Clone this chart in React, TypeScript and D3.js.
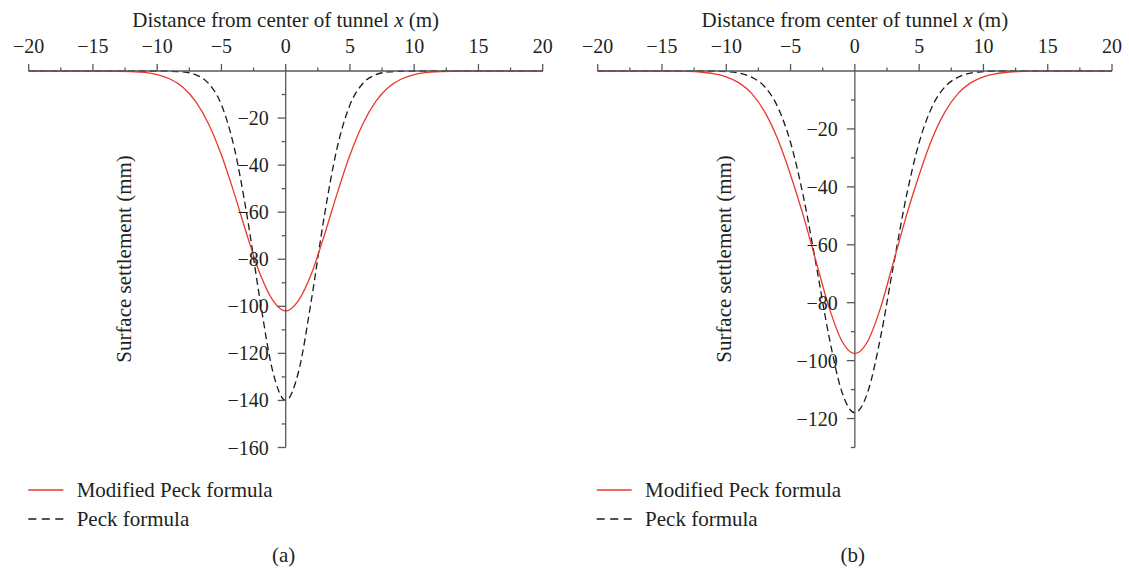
import React from "react";
import * as d3 from "d3";

// ---- data ----
const distances = d3.range(-20, 21); // m, -20..20

// Panel (a)
const modifiedA = [
  0, 0, 0, 0, 0, 0, 0, -0.1, -0.3, -0.6, -1.5, -3.4, -6.9, -13.0, -22.5, -35.7, -52.1, -69.9, -86.2, -97.5,
  -102,
  -97.5, -86.2, -69.9, -52.1, -35.7, -22.5, -13.0, -6.9, -3.4, -1.5, -0.6, -0.3, -0.1, 0, 0, 0, 0, 0, 0, 0,
];
const peckA = [
  0, 0, 0, 0, 0, 0, 0, 0, 0, 0, 0, -0.1, -0.4, -1.6, -5.3, -14.4, -32.7, -61.8, -97.3, -127.8,
  -140,
  -127.8, -97.3, -61.8, -32.7, -14.4, -5.3, -1.6, -0.4, -0.1, 0, 0, 0, 0, 0, 0, 0, 0, 0, 0, 0,
];

// Panel (b)
const modifiedB = [
  0, 0, 0, 0, 0, 0, -0.05, -0.15, -0.4, -0.9, -2.0, -4.1, -7.9, -14.2, -23.5, -35.9, -50.1, -66.0, -81.7, -93.3,
  -97.6,
  -93.3, -81.7, -66.0, -50.1, -35.9, -23.5, -14.2, -7.9, -4.1, -2.0, -0.9, -0.4, -0.15, -0.05, 0, 0, 0, 0, 0, 0,
];
const peckB = [
  0, 0, 0, 0, 0, 0, 0, 0, 0, 0, -0.2, -0.7, -2.2, -5.5, -12.4, -24.7, -43.4, -67.2, -91.9, -110.9,
  -118,
  -110.9, -91.9, -67.2, -43.4, -24.7, -12.4, -5.5, -2.2, -0.7, -0.2, 0, 0, 0, 0, 0, 0, 0, 0, 0, 0,
];

const xMajorTicks = [-20, -15, -10, -5, 0, 5, 10, 15, 20];
const xMinorTicks = [-17.5, -12.5, -7.5, -2.5, 2.5, 7.5, 12.5, 17.5];
const yMajorA = [-20, -40, -60, -80, -100, -120, -140, -160];
const yMinorA = [-10, -30, -50, -70, -90, -110, -130, -150];
const yMajorB = [-20, -40, -60, -80, -100, -120];
const yMinorB = [-10, -30, -50, -70, -90, -110, -130];

const xTitle = "Distance from center of tunnel ";
const yTitle = "Surface settlement (mm)";
const seriesNames = ["Modified Peck formula", "Peck formula"];

const AXIS = "#58595b";
const TEXT = "#231f20";
const RED = "#e8392e";
const FONT = '"Liberation Serif", "DejaVu Serif", serif';

type PanelProps = {
  xRange: [number, number];
  yMin: number;
  yMajor: number[];
  yMinor: number[];
  modified: number[];
  peck: number[];
  yLabelX: number;
  legendX: number;
  tag: string;
};

const txt = (size: number): React.CSSProperties => ({ fontFamily: FONT, fontSize: size + "px" });

function Panel({ xRange, yMin, yMajor, yMinor, modified, peck, yLabelX, legendX, tag }: PanelProps) {
  const x = d3.scaleLinear().domain([-20, 20]).range(xRange);
  const y = d3.scaleLinear().domain([yMin, 0]).range([447.5, 71]);
  const x0 = x(0);
  const y0 = y(0);
  const line = d3
    .line<number>()
    .x((_, i) => x(distances[i]))
    .y((d) => y(d))
    .curve(d3.curveMonotoneX);

  return (
    <g fill={TEXT}>
      {/* title */}
      <text x={x0} y={26.5} style={txt(21)} textAnchor="middle">
        {xTitle}
        <tspan fontStyle="italic">x</tspan> (m)
      </text>
      {/* x tick labels */}
      {xMajorTicks.map((t) => (
        <text key={"xl" + t} x={x(t)} y={53.3} style={txt(20)} textAnchor="middle">
          {t < 0 ? "\u2212" + Math.abs(t) : String(t)}
        </text>
      ))}
      {/* curves */}
      <path d={line(peck) || ""} fill="none" stroke="#1a1a1a" strokeWidth={1.3} strokeDasharray="7,4" />
      <path d={line(modified) || ""} fill="none" stroke={RED} strokeWidth={1.3} />
      {/* x axis */}
      <line x1={x(-20)} x2={x(20)} y1={y0} y2={y0} stroke={AXIS} strokeWidth={1.3} />
      {xMajorTicks.map((t) => (
        <line key={"xt" + t} x1={x(t)} x2={x(t)} y1={y0} y2={y0 - 7} stroke={AXIS} strokeWidth={1.3} />
      ))}
      {xMinorTicks.map((t) => (
        <line key={"xm" + t} x1={x(t)} x2={x(t)} y1={y0} y2={y0 - 3.5} stroke={AXIS} strokeWidth={1.3} />
      ))}
      {/* y axis */}
      <line x1={x0} x2={x0} y1={y0} y2={y(yMin)} stroke={AXIS} strokeWidth={1.3} />
      {yMajor.map((t) => (
        <line key={"yt" + t} x1={x0} x2={x0 - 8} y1={y(t)} y2={y(t)} stroke={AXIS} strokeWidth={1.3} />
      ))}
      {yMinor.map((t) => (
        <line key={"ym" + t} x1={x0} x2={x0 - 4} y1={y(t)} y2={y(t)} stroke={AXIS} strokeWidth={1.3} />
      ))}
      {yMajor.map((t) => (
        <text
          key={"yl" + t}
          x={x0 - 17}
          y={y(t) + 7}
          style={txt(20)}
          textAnchor="end"
        >
          {"\u2212" + Math.abs(t)}
        </text>
      ))}
      {/* y title */}
      <text transform={`translate(${yLabelX},259) rotate(-90)`} style={txt(21)} textAnchor="middle">
        {yTitle}
      </text>
      {/* legend */}
      <line x1={legendX} x2={legendX + 35} y1={490} y2={490} stroke={RED} strokeWidth={1.3} />
      <text x={legendX + 48.4} y={497.3} style={txt(21)}>
        {seriesNames[0]}
      </text>
      <line
        x1={legendX}
        x2={legendX + 35}
        y1={519}
        y2={519}
        stroke="#1a1a1a"
        strokeWidth={1.3}
        strokeDasharray="8,5.5"
      />
      <text x={legendX + 48.4} y={525.5} style={txt(21)}>
        {seriesNames[1]}
      </text>
      <text x={x0 - 2} y={562} style={txt(21)} textAnchor="middle">
        {tag}
      </text>
    </g>
  );
}

export default function App() {
  return (
    <svg
      width={1129}
      height={573}
      style={{ position: "absolute", left: 0, top: 0, background: "#fff" }}
    >
      <rect width={1129} height={573} fill="#fff" />
      <Panel
        xRange={[28.7, 542.7]}
        yMin={-160}
        yMajor={yMajorA}
        yMinor={yMinorA}
        modified={modifiedA}
        peck={peckA}
        yLabelX={131}
        legendX={28.3}
        tag="(a)"
      />
      <Panel
        xRange={[597.7, 1112]}
        yMin={-130}
        yMajor={yMajorB}
        yMinor={yMinorB}
        modified={modifiedB}
        peck={peckB}
        yLabelX={731}
        legendX={596.7}
        tag="(b)"
      />
    </svg>
  );
}
